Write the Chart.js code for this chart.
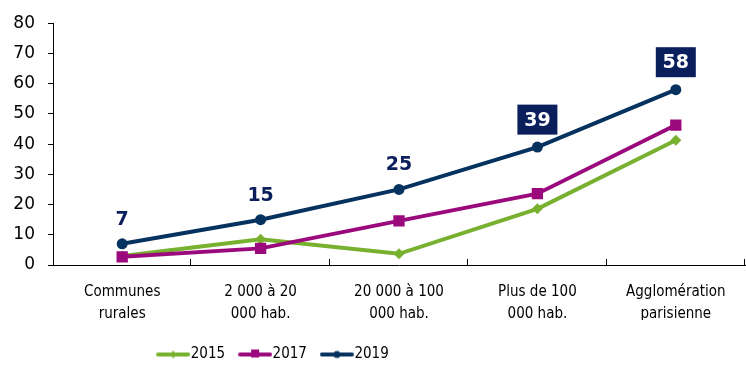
<!DOCTYPE html>
<html lang="fr">

<head>
    <meta charset="UTF-8">
    <title>Évolution par taille d'agglomération</title>
    <script src="https://cdn.jsdelivr.net/npm/chart.js"></script>
    <style>
        html, body { margin: 0; padding: 0; background: #fff; }
        #wrap { width: 746px; height: 365px; }
    </style>
</head>

<body>
    <div id="wrap"><canvas id="evoChart"></canvas></div>

    <script>
        // Data
        const categories = [
            ['Communes', 'rurales'],
            ['2 000 à 20', '000 hab.'],
            ['20 000 à 100', '000 hab.'],
            ['Plus de 100', '000 hab.'],
            ['Agglomération', 'parisienne']
        ];
        const years = ['2015', '2017', '2019'];
        const values2015 = [3, 8.5, 3.7, 18.6, 41.3];
        const values2017 = [2.7, 5.5, 14.6, 23.6, 46.3];
        const values2019 = [7, 15, 25, 39, 58];
        const labels2019 = ['7', '15', '25', '39', '58'];
        const boxedIdx = [3, 4]; // labels drawn white on a navy box
        const yMin = 0, yMax = 80, yStep = 10;

        const GREEN = '#78b02f';
        const PURPLE = '#9b0a7d';
        const NAVY = '#06325f';
        const BOX = '#0a1f5c';

        const narrow = '"Liberation Sans Narrow", "DejaVu Sans Condensed", sans-serif';

        // small line+marker swatch for the legend
        function swatch(color, style) {
            const c = document.createElement('canvas');
            c.width = 34; c.height = 12;
            const g = c.getContext('2d');
            g.strokeStyle = color;
            g.lineWidth = 4;
            g.lineCap = 'round';
            g.beginPath(); g.moveTo(2, 6); g.lineTo(32, 6); g.stroke();
            g.fillStyle = color;
            if (style === 'rect') g.fillRect(13, 1, 8, 8);
            else if (style === 'circle') { g.beginPath(); g.arc(17, 6, 3.5, 0, Math.PI * 2); g.fill(); }
            else { g.beginPath(); g.moveTo(17, 2); g.lineTo(20, 6); g.lineTo(17, 10); g.lineTo(14, 6); g.closePath(); g.fill(); }
            return c;
        }

        // value labels above the 2019 line
        const valueLabels = {
            id: 'valueLabels',
            afterDatasetsDraw(chart) {
                const meta = chart.getDatasetMeta(2);
                const ctx = chart.ctx;
                ctx.save();
                ctx.font = 'bold 19px "DejaVu Sans", Verdana, sans-serif';
                ctx.textAlign = 'center';
                ctx.textBaseline = 'middle';
                meta.data.forEach((pt, i) => {
                    const x = pt.x;
                    if (boxedIdx.includes(i)) {
                        const y = pt.y - 27.5;
                        ctx.fillStyle = BOX;
                        ctx.fillRect(x - 20, y - 15, 40, 30);
                        ctx.fillStyle = '#fff';
                        ctx.fillText(labels2019[i], x, y + 1);
                    } else {
                        ctx.fillStyle = BOX;
                        ctx.fillText(labels2019[i], x, pt.y - 24);
                    }
                });
                ctx.restore();
            }
        };

        // short tick marks on the category boundaries, pointing up into the plot
        const catTicks = {
            id: 'catTicks',
            afterDraw(chart) {
                const xs = chart.scales.x;
                const ctx = chart.ctx;
                const bottom = chart.chartArea.bottom;
                const n = categories.length;
                const step = (xs.right - xs.left) / n;
                ctx.save();
                ctx.strokeStyle = '#000';
                ctx.lineWidth = 1;
                ctx.beginPath();
                for (let i = 1; i <= n; i++) {
                    const x = Math.round(xs.left + step * i) - 0.5;
                    ctx.moveTo(x, bottom);
                    ctx.lineTo(x, bottom - 6);
                }
                ctx.stroke();
                ctx.restore();
            }
        };

        // legend sits left of centre
        const legendShift = {
            id: 'legendShift',
            afterLayout(chart) {
                chart.legend.left = 0;
                chart.legend.right = 552;
                chart.legend.top = 327;
            }
        };

        const ctx = document.getElementById('evoChart').getContext('2d');
        new Chart(ctx, {
            type: 'line',
            data: {
                labels: categories,
                datasets: [{
                    label: years[0],
                    data: values2015,
                    borderColor: GREEN,
                    backgroundColor: GREEN,
                    borderWidth: 4,
                    pointStyle: 'rectRot',
                    pointRadius: 5.5,
                    pointBorderWidth: 0,
                    order: 3
                }, {
                    label: years[1],
                    data: values2017,
                    borderColor: PURPLE,
                    backgroundColor: PURPLE,
                    borderWidth: 4,
                    pointStyle: 'rect',
                    pointRadius: 8,
                    pointBorderWidth: 0,
                    order: 2
                }, {
                    label: years[2],
                    data: values2019,
                    borderColor: NAVY,
                    backgroundColor: NAVY,
                    borderWidth: 4,
                    pointStyle: 'circle',
                    pointRadius: 5.5,
                    pointBorderWidth: 0,
                    order: 1
                }]
            },
            options: {
                responsive: true,
                maintainAspectRatio: false,
                animation: false,
                layout: { autoPadding: false, padding: { top: 21, right: 1, left: 0, bottom: 0 } },
                scales: {
                    x: {
                        offset: true,
                        grid: { display: false, drawTicks: false },
                        border: { color: '#000', width: 1 },
                        ticks: {
                            color: '#000',
                            padding: 16,
                            maxRotation: 0,
                            autoSkip: false,
                            font: { family: narrow, size: 15, lineHeight: 1.45 }
                        },
                        afterFit(s) { s.height = 55; }
                    },
                    y: {
                        min: yMin,
                        max: yMax,
                        grid: { drawOnChartArea: false, tickLength: 5, tickColor: '#000' },
                        border: { color: '#000', width: 1 },
                        ticks: {
                            stepSize: yStep,
                            color: '#000',
                            padding: 13,
                            font: { family: '"DejaVu Sans", Verdana, sans-serif', size: 17 }
                        },
                        afterFit(s) { s.width = 53; }
                    }
                },
                plugins: {
                    tooltip: { enabled: false },
                    legend: {
                        position: 'bottom',
                        align: 'center',
                        labels: {
                            usePointStyle: true,
                            pointStyleWidth: 20,
                            padding: 20,
                            color: '#000',
                            font: { family: narrow, size: 15 },
                            sort: (a, b) => a.datasetIndex - b.datasetIndex,
                            generateLabels(chart) {
                                const styles = ['diamond', 'rect', 'circle'];
                                const cols = [GREEN, PURPLE, NAVY];
                                return chart.data.datasets.map((ds, i) => ({
                                    text: ds.label,
                                    datasetIndex: i,
                                    pointStyle: swatch(cols[i], styles[i]),
                                    fillStyle: cols[i],
                                    strokeStyle: cols[i],
                                    lineWidth: 0,
                                    fontColor: '#000',
                                    hidden: false
                                }));
                            }
                        }
                    }
                }
            },
            plugins: [valueLabels, catTicks, legendShift]
        });
    </script>
</body>

</html>
